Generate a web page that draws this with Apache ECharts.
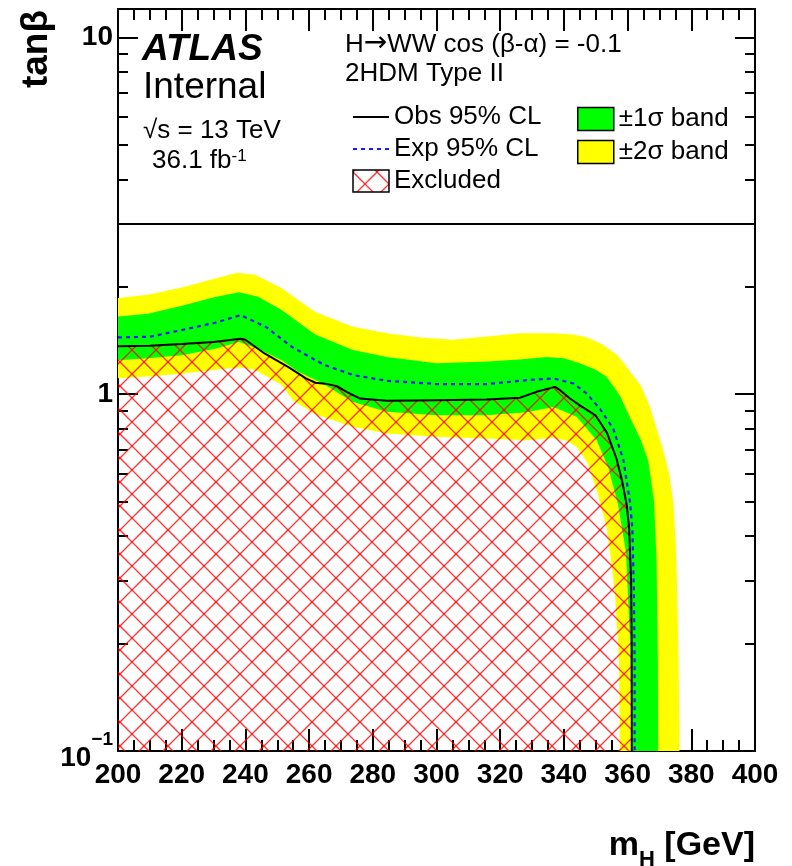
<!DOCTYPE html>
<html><head><meta charset="utf-8">
<script src="https://cdn.jsdelivr.net/npm/echarts@6/dist/echarts.min.js"></script>
<style>html,body{margin:0;padding:0;background:#fff}#c{width:792px;height:866px}</style>
</head><body><div id="c"></div>
<script>
// ---------------- data (mH [GeV], tan beta) ----------------
const obsMass = [200, 210, 220, 230, 238.5, 240, 246, 253.5, 259, 262, 265, 268.7, 271.8, 276, 284.4, 300, 315.8, 326.2, 331.4, 337.2, 338.8, 341.9, 345, 350, 353.5, 356.5, 358.3, 359.7, 360.5, 361.1, 361.3, 361.3];
const obsTanb = [1.363, 1.366, 1.381, 1.40, 1.43, 1.42, 1.30, 1.19, 1.107, 1.076, 1.07, 1.053, 1.015, 0.972, 0.958, 0.962, 0.966, 0.977, 1.015, 1.048, 1.026, 0.972, 0.93, 0.87, 0.78, 0.66, 0.57, 0.49, 0.42, 0.30, 0.20, 0.10];

const expMass = [200, 210, 220, 230.5, 238.5, 246.3, 254.6, 262, 265, 273.8, 284.4, 300, 315.8, 328.3, 336.7, 343, 347.1, 351.3, 355.5, 358.7, 360.8, 361.5, 362, 362.2, 362.2];
const expTanb = [1.442, 1.448, 1.512, 1.585, 1.665, 1.545, 1.357, 1.245, 1.206, 1.131, 1.09, 1.067, 1.067, 1.094, 1.107, 1.071, 1.005, 0.91, 0.80, 0.653, 0.494, 0.42, 0.276, 0.18, 0.10];

// +2 sigma (outer yellow edge)
const p2Mass = [200, 209.4, 220, 230.5, 237.3, 243, 251.4, 261.9, 273.8, 284.4, 294.8, 305.3, 315.8, 326.2, 336.6, 343, 347.3, 352, 357, 361, 364.3, 367, 369.5, 371.5, 373, 374.3, 375, 375.5, 376, 376.3];
const p2Tanb = [1.86, 1.90, 1.99, 2.11, 2.19, 2.16, 1.98, 1.70, 1.545, 1.48, 1.44, 1.42, 1.45, 1.48, 1.48, 1.47, 1.44, 1.38, 1.28, 1.15, 1.05, 0.92, 0.78, 0.68, 0.60, 0.50, 0.40, 0.30, 0.18, 0.10];
// -2 sigma (inner yellow edge)
const m2Mass = [200, 209.4, 220, 230.5, 238, 243, 251.4, 255, 261.9, 263.4, 273.8, 284.4, 300, 315.8, 328.3, 336.7, 341, 344, 347.5, 350.5, 353.5, 356, 357.3, 357.6];
const m2Tanb = [1.107, 1.12, 1.14, 1.17, 1.19, 1.17, 1.06, 0.96, 0.88, 0.87, 0.81, 0.776, 0.759, 0.751, 0.743, 0.755, 0.74, 0.711, 0.64, 0.53, 0.42, 0.28, 0.18, 0.10];
// +1 sigma (outer green edge)
const p1Mass = [200, 209.4, 220, 230.5, 238, 244, 251.4, 261.9, 273.8, 284.4, 300, 315.8, 326, 334.6, 340, 345, 350, 353.4, 357.6, 361, 364, 366.5, 368.3, 369.1, 369.5, 369.6];
const p1Tanb = [1.65, 1.68, 1.77, 1.87, 1.93, 1.875, 1.72, 1.47, 1.33, 1.27, 1.22, 1.235, 1.25, 1.27, 1.26, 1.22, 1.17, 1.118, 0.99, 0.85, 0.75, 0.65, 0.50, 0.34, 0.18, 0.10];
// -1 sigma (inner green edge)
const m1Mass = [200, 209.4, 220, 230.5, 238, 244, 251.4, 256.6, 264, 273.8, 284.4, 300, 315.8, 328.3, 336.7, 344, 350.3, 354, 357, 359.5, 360.8, 361.2];
const m1Tanb = [1.245, 1.26, 1.285, 1.34, 1.40, 1.34, 1.245, 1.155, 1.075, 0.95, 0.892, 0.873, 0.873, 0.89, 0.92, 0.864, 0.743, 0.62, 0.49, 0.36, 0.20, 0.10];

// axis ticks / labels
const xMin = 200, xMax = 400, xStep = 20;
const yMin = 0.1, yMax = 12;
const yMajorValues = [0.1, 1, 10];
const yMinorValues = [0.2, 0.3, 0.4, 0.5, 0.6, 0.7, 0.8, 0.9, 2, 3, 4, 5, 6, 7, 8, 9];
const legendLimit = 3; // tan beta where the legend box separator sits

// ---------------- helpers ----------------
const zip = (xs, ys) => xs.map((x, i) => [x, ys[i]]);
const FONT = 'Liberation Sans, Arial, Helvetica, sans-serif';

function makeHatch() {
  const c = document.createElement('canvas');
  c.width = 24; c.height = 24;
  const g = c.getContext('2d');
  g.strokeStyle = 'rgba(255,0,0,0.8)';
  g.lineWidth = 1.3;
  for (let k = -3; k <= 3; k++) {
    g.beginPath(); g.moveTo(-24, -22 + 24 * k); g.lineTo(48, 50 + 24 * k); g.stroke();
    g.beginPath(); g.moveTo(-24, 26 + 24 * k); g.lineTo(48, -46 + 24 * k); g.stroke();
  }
  return c;
}
const hatch = { image: makeHatch(), repeat: 'repeat' };

const yellowPoly = zip(p2Mass, p2Tanb).concat(zip(m2Mass, m2Tanb).reverse());
const greenPoly = zip(p1Mass, p1Tanb).concat(zip(m1Mass, m1Tanb).reverse());
const exclPoly = zip(obsMass, obsTanb).concat([[xMin, yMin]]);

function polySeries(name, poly, fill, z) {
  return {
    type: 'custom', name: name, xAxisIndex: 0, yAxisIndex: 0,
    clip: true, z: z, silent: true,
    itemStyle: { color: fill },
    data: poly,
    encode: { x: 0, y: 1 },
    renderItem: function (params, api) {
      if (params.dataIndex !== 0) return null;
      return {
        type: 'polygon',
        shape: { points: poly.map(p => api.coord(p)) },
        style: { fill: fill, stroke: null }
      };
    }
  };
}

const tickStyle = { color: '#000', width: 2 };
function yAxisDef(position, major, showLabels) {
  const vals = major ? yMajorValues : yMinorValues;
  const ax = {
    type: 'log', logBase: 10, min: yMin, max: yMax, position: position,
    axisLine: { show: major, onZero: false, lineStyle: { color: '#000', width: 2 } },
    axisTick: { show: true, inside: true, length: major ? 20 : 10, lineStyle: tickStyle, customValues: vals },
    minorTick: { show: false },
    splitLine: { show: false },
    axisLabel: { show: false }
  };
  if (showLabels) {
    ax.axisLabel = {
      show: true, customValues: yMajorValues, margin: 5,
      fontFamily: FONT, fontSize: 28, fontWeight: 'bold', color: '#000',
      formatter: function (v) {
        const e = Math.round(Math.log10(v));
        if (e === -1) return '{b|10}{s|\u22121}';
        return e === 0 ? '1' : '10';
      },
      rich: {
        b: { fontFamily: FONT, fontSize: 28, fontWeight: 'bold', color: '#000', verticalAlign: 'bottom', padding: [14, 0, 0, 0] },
        s: { fontFamily: FONT, fontSize: 19, fontWeight: 'bold', color: '#000', verticalAlign: 'top' }
      }
    };
    ax.name = 'tan\u03b2';
    ax.nameLocation = 'end';
    ax.nameRotate = 90;
    ax.nameGap = -1;
    ax.nameTextStyle = {
      fontFamily: FONT, fontSize: 37, fontWeight: 'bold', color: '#000',
      align: 'right', verticalAlign: 'bottom', padding: [0, 0, 63, 0]
    };
  }
  return ax;
}
function xAxisDef(position, showLabels) {
  const ax = {
    type: 'value', min: xMin, max: xMax, interval: xStep, position: position,
    axisLine: { show: true, onZero: false, lineStyle: { color: '#000', width: 2 } },
    axisTick: { show: true, inside: true, length: 22, lineStyle: tickStyle },
    minorTick: { show: true, splitNumber: 4, length: 11, lineStyle: tickStyle },
    splitLine: { show: false },
    axisLabel: { show: false }
  };
  if (showLabels) {
    ax.axisLabel = { show: true, margin: 10, fontFamily: FONT, fontSize: 28, fontWeight: 'bold', color: '#000', showMinLabel: true, showMaxLabel: true };
    ax.name = '{m|m}{h|H}{r| [GeV]}';
    ax.nameLocation = 'end';
    ax.nameGap = 0;
    ax.nameTextStyle = {
      align: 'right', verticalAlign: 'top', padding: [78, 0, 0, 0],
      rich: {
        m: { fontFamily: FONT, fontSize: 34, fontWeight: 'bold', color: '#000', verticalAlign: 'top', lineHeight: 36 },
        h: { fontFamily: FONT, fontSize: 22, fontWeight: 'bold', color: '#000', verticalAlign: 'top', lineHeight: 24, padding: [20, 0, 0, 0] },
        r: { fontFamily: FONT, fontSize: 34, fontWeight: 'bold', color: '#000', verticalAlign: 'top', lineHeight: 36 }
      }
    };
  }
  return ax;
}

const txt = (size, extra) => Object.assign({ fontFamily: FONT, fontSize: size, color: '#000', fontWeight: 'normal' }, extra || {});
const hiddenSymbol = { color: 'rgba(0,0,0,0)', borderWidth: 0, opacity: 0 };

const option = {
  animation: false,
  backgroundColor: '#fff',
  grid: { left: 118, right: 37, top: 9, bottom: 115, containLabel: false, outerBoundsMode: 'none' },
  xAxis: [xAxisDef('bottom', true), xAxisDef('top', false)],
  yAxis: [yAxisDef('left', true, true), yAxisDef('left', false, false), yAxisDef('right', true, false), yAxisDef('right', false, false)],
  title: [
    { text: 'ATLAS', left: 142, top: 31, padding: 0, textStyle: txt(37, { fontWeight: 'bold', fontStyle: 'italic' }) },
    { text: 'Internal', left: 143, top: 69, padding: 0, textStyle: txt(37) },
    { text: '\u221As = 13 TeV', left: 143, top: 118, padding: 0, textStyle: txt(26) },
    { text: '{a|36.1 fb}{s|-1}', left: 152, top: 148, padding: 0, textStyle: { rich: { a: txt(26, { verticalAlign: 'bottom' }), s: txt(17, { verticalAlign: 'top' }) } } },
    { text: '{a|H}{r|\u2192}{a|WW cos (\u03b2-\u03b1) = -0.1}', left: 345, top: 30, padding: 0,
      textStyle: { rich: { a: txt(26, { verticalAlign: 'bottom' }), r: txt(28, { fontFamily: 'DejaVu Sans', verticalAlign: 'bottom', padding: [0, 0, 0, 0] }) } } },
    { text: '2HDM Type II', left: 345, top: 61, padding: 0, textStyle: txt(26) }
  ],
  legend: [
    {
      left: 352, top: 104, orient: 'vertical', itemWidth: 36, itemHeight: 22, itemGap: 6,
      padding: 0, selectedMode: false, textStyle: txt(26),
      data: [
        { name: 'Obs 95% CL', itemStyle: hiddenSymbol },
        { name: 'Exp 95% CL', itemStyle: hiddenSymbol },
        { name: 'Excluded', icon: 'rect', itemStyle: { color: hatch, borderColor: '#000', borderWidth: 1.5 } }
      ]
    },
    {
      left: 577, top: 106, orient: 'vertical', itemWidth: 36, itemHeight: 23, itemGap: 7,
      padding: 0, selectedMode: false, textStyle: txt(26),
      data: [
        { name: '\u00b11\u03c3 band', icon: 'rect', itemStyle: { color: '#00ff00', borderColor: '#000', borderWidth: 1.5 } },
        { name: '\u00b12\u03c3 band', icon: 'rect', itemStyle: { color: '#ffff00', borderColor: '#000', borderWidth: 1.5 } }
      ]
    }
  ],
  series: [
    polySeries('\u00b12\u03c3 band', yellowPoly, '#ffff00', 1),
    polySeries('\u00b11\u03c3 band', greenPoly, '#00ff00', 2),
    polySeries('Excluded', exclPoly, hatch, 3),
    {
      type: 'line', name: 'Exp 95% CL', xAxisIndex: 0, yAxisIndex: 0, z: 4,
      data: zip(expMass, expTanb), symbol: 'none', smooth: false,
      lineStyle: { color: '#1a1aff', width: 2.2, type: [4, 4] },
      itemStyle: { color: '#1a1aff' }
    },
    {
      type: 'line', name: 'Obs 95% CL', xAxisIndex: 0, yAxisIndex: 0, z: 5,
      data: zip(obsMass, obsTanb), symbol: 'none', smooth: false,
      lineStyle: { color: '#000', width: 2 },
      itemStyle: { color: '#000' },
      markLine: {
        silent: true, symbol: 'none', label: { show: false },
        lineStyle: { color: '#000', width: 2, type: 'solid' },
        data: [{ yAxis: legendLimit }]
      }
    }
  ]
};

const chart = echarts.init(document.getElementById('c'), null, { renderer: 'canvas' });
chart.setOption(option);
</script>
</body></html>
